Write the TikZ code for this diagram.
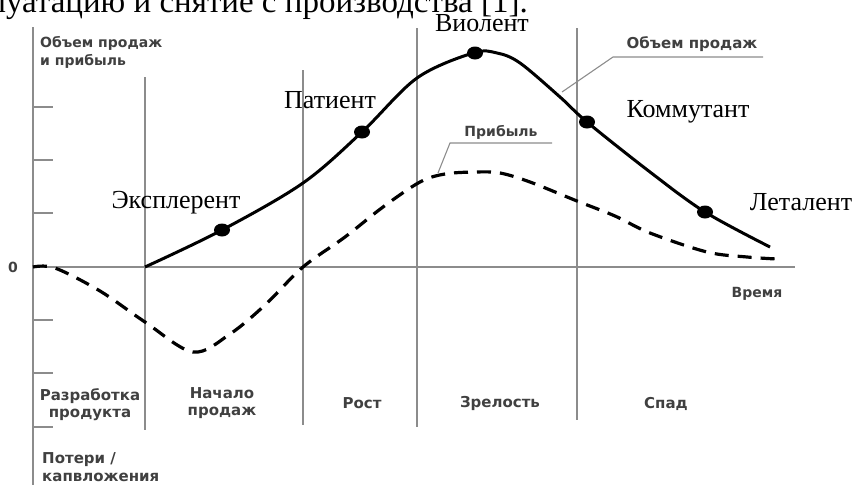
\documentclass[tikz,border=0pt]{standalone}
\usepackage{fontspec}
\setmainfont{Liberation Serif}
\newfontfamily\labfont{DejaVu Sans}
\usetikzlibrary{shapes.geometric}
\begin{document}
\begin{tikzpicture}[x=1pt,y=-1pt,
  gridline/.style={draw=black!45, line width=1.6pt},
  tick/.style={draw=black!45, line width=1.4pt},
  sales/.style={draw=black, line width=3pt},
  profit/.style={draw=black, line width=3.2pt, dash pattern=on 14pt off 9pt},
  leader/.style={draw=black!45, line width=1.1pt},
  dot/.style={ellipse, fill=black, minimum width=16pt, minimum height=13pt, inner sep=0pt},
  serif/.style={font=\fontsize{26}{30}\selectfont, inner sep=0pt},
  capfont/.style={font=\fontsize{33}{38}\selectfont, inner sep=0pt},
  lab/.style={font=\labfont\bfseries\fontsize{14}{18}\selectfont, text=black!75, inner sep=0pt},
  phase/.style={font=\labfont\bfseries\fontsize{15}{18}\selectfont, text=black!75, inner sep=0pt}]
\useasboundingbox (0,0) rectangle (854,485);

% clipped caption line at the top
\node[capfont, anchor=base east] (cap) at (528,12) {эксплуатацию и снятие с производства [1].};

% axes
\coordinate (ytop) at (33,27);
\coordinate (ybot) at (33,485);
\coordinate (x0) at (33,267);
\coordinate (xend) at (795,267);
\draw[gridline] (ytop) -- (ybot);
\draw[gridline] (x0) -- (xend);
\foreach \t in {107,160,213,320,373,427} {
  \coordinate (ta) at (33,\t); \coordinate (tb) at (53,\t);
  \draw[tick] (ta) -- (tb);
}

% phase separators
\coordinate (v1a) at (145,77);  \coordinate (v1b) at (145,430);
\coordinate (v2a) at (303,70);  \coordinate (v2b) at (303,425);
\coordinate (v3a) at (417,28);  \coordinate (v3b) at (417,427);
\coordinate (v4a) at (577,28);  \coordinate (v4b) at (577,420);
\draw[gridline] (v1a) -- (v1b);
\draw[gridline] (v2a) -- (v2b);
\draw[gridline] (v3a) -- (v3b);
\draw[gridline] (v4a) -- (v4b);

% profit curve
\draw[profit] plot[smooth, tension=0.55] coordinates {(33,267) (55,268) (100,291) (145,322) (193,352) (230,334) (265,305) (303,267) (345,237) (383,207) (420,182) (445,174) (475,172) (500,173) (530,182) (577,201) (615,216) (650,233) (707,252) (747,257) (777,259)};

% sales curve
\draw[sales] plot[smooth, tension=0.55] coordinates {(145,267) (222,230) (303,183) (362,132) (417,78) (473,53) (497,53) (520,63) (560,97) (587,122) (650,172) (705,212) (770,247)};

% dots
\node[dot] (d1) at (222,230) {};
\node[dot] (d2) at (362,132) {};
\node[dot] (d3) at (475,53) {};
\node[dot] (d4) at (587,122) {};
\node[dot] (d5) at (705,212) {};

% strategy labels
\node[serif, anchor=base] (l1) at (176,208) {Эксплерент};
\node[serif, anchor=base] (l2) at (330,108) {Патиент};
\node[serif, anchor=base] (l3) at (482,31) {Виолент};
\node[serif, anchor=base] (l4) at (688,117) {Коммутант};
\node[serif, anchor=base] (l5) at (801,210) {Леталент};

% leaders
\coordinate (s0) at (562,92);
\coordinate (s1) at (613,57);
\coordinate (s2) at (763,57);
\draw[leader] (s0) -- (s1) -- (s2);
\node[phase, anchor=base] (slab) at (692,48) {Объем продаж};
\coordinate (p0) at (438,173);
\coordinate (p1) at (450,143);
\coordinate (p2) at (552,143);
\draw[leader] (p0) -- (p1) -- (p2);
\node[lab, anchor=base] (plab) at (501,136) {Прибыль};

% axis labels
\node[lab, anchor=base west] (ya1) at (40,47) {Объем продаж};
\node[lab, anchor=base west] (ya2) at (40,65) {и прибыль};
\node[lab, anchor=base] (zero) at (13,272) {0};
\node[lab, anchor=base] (time) at (757,297) {Время};

% phases
\node[phase, anchor=base] (ph1a) at (90,400) {Разработка};
\node[phase, anchor=base] (ph1b) at (90,417) {продукта};
\node[phase, anchor=base] (ph2a) at (222,398) {Начало};
\node[phase, anchor=base] (ph2b) at (222,415) {продаж};
\node[phase, anchor=base] (ph3) at (362,408) {Рост};
\node[phase, anchor=base] (ph4) at (500,407) {Зрелость};
\node[phase, anchor=base] (ph5) at (666,408) {Спад};
\node[phase, anchor=base west] (loss1) at (42,463) {Потери /};
\node[phase, anchor=base west] (loss2) at (42,481) {капвложения};
\end{tikzpicture}
\end{document}
